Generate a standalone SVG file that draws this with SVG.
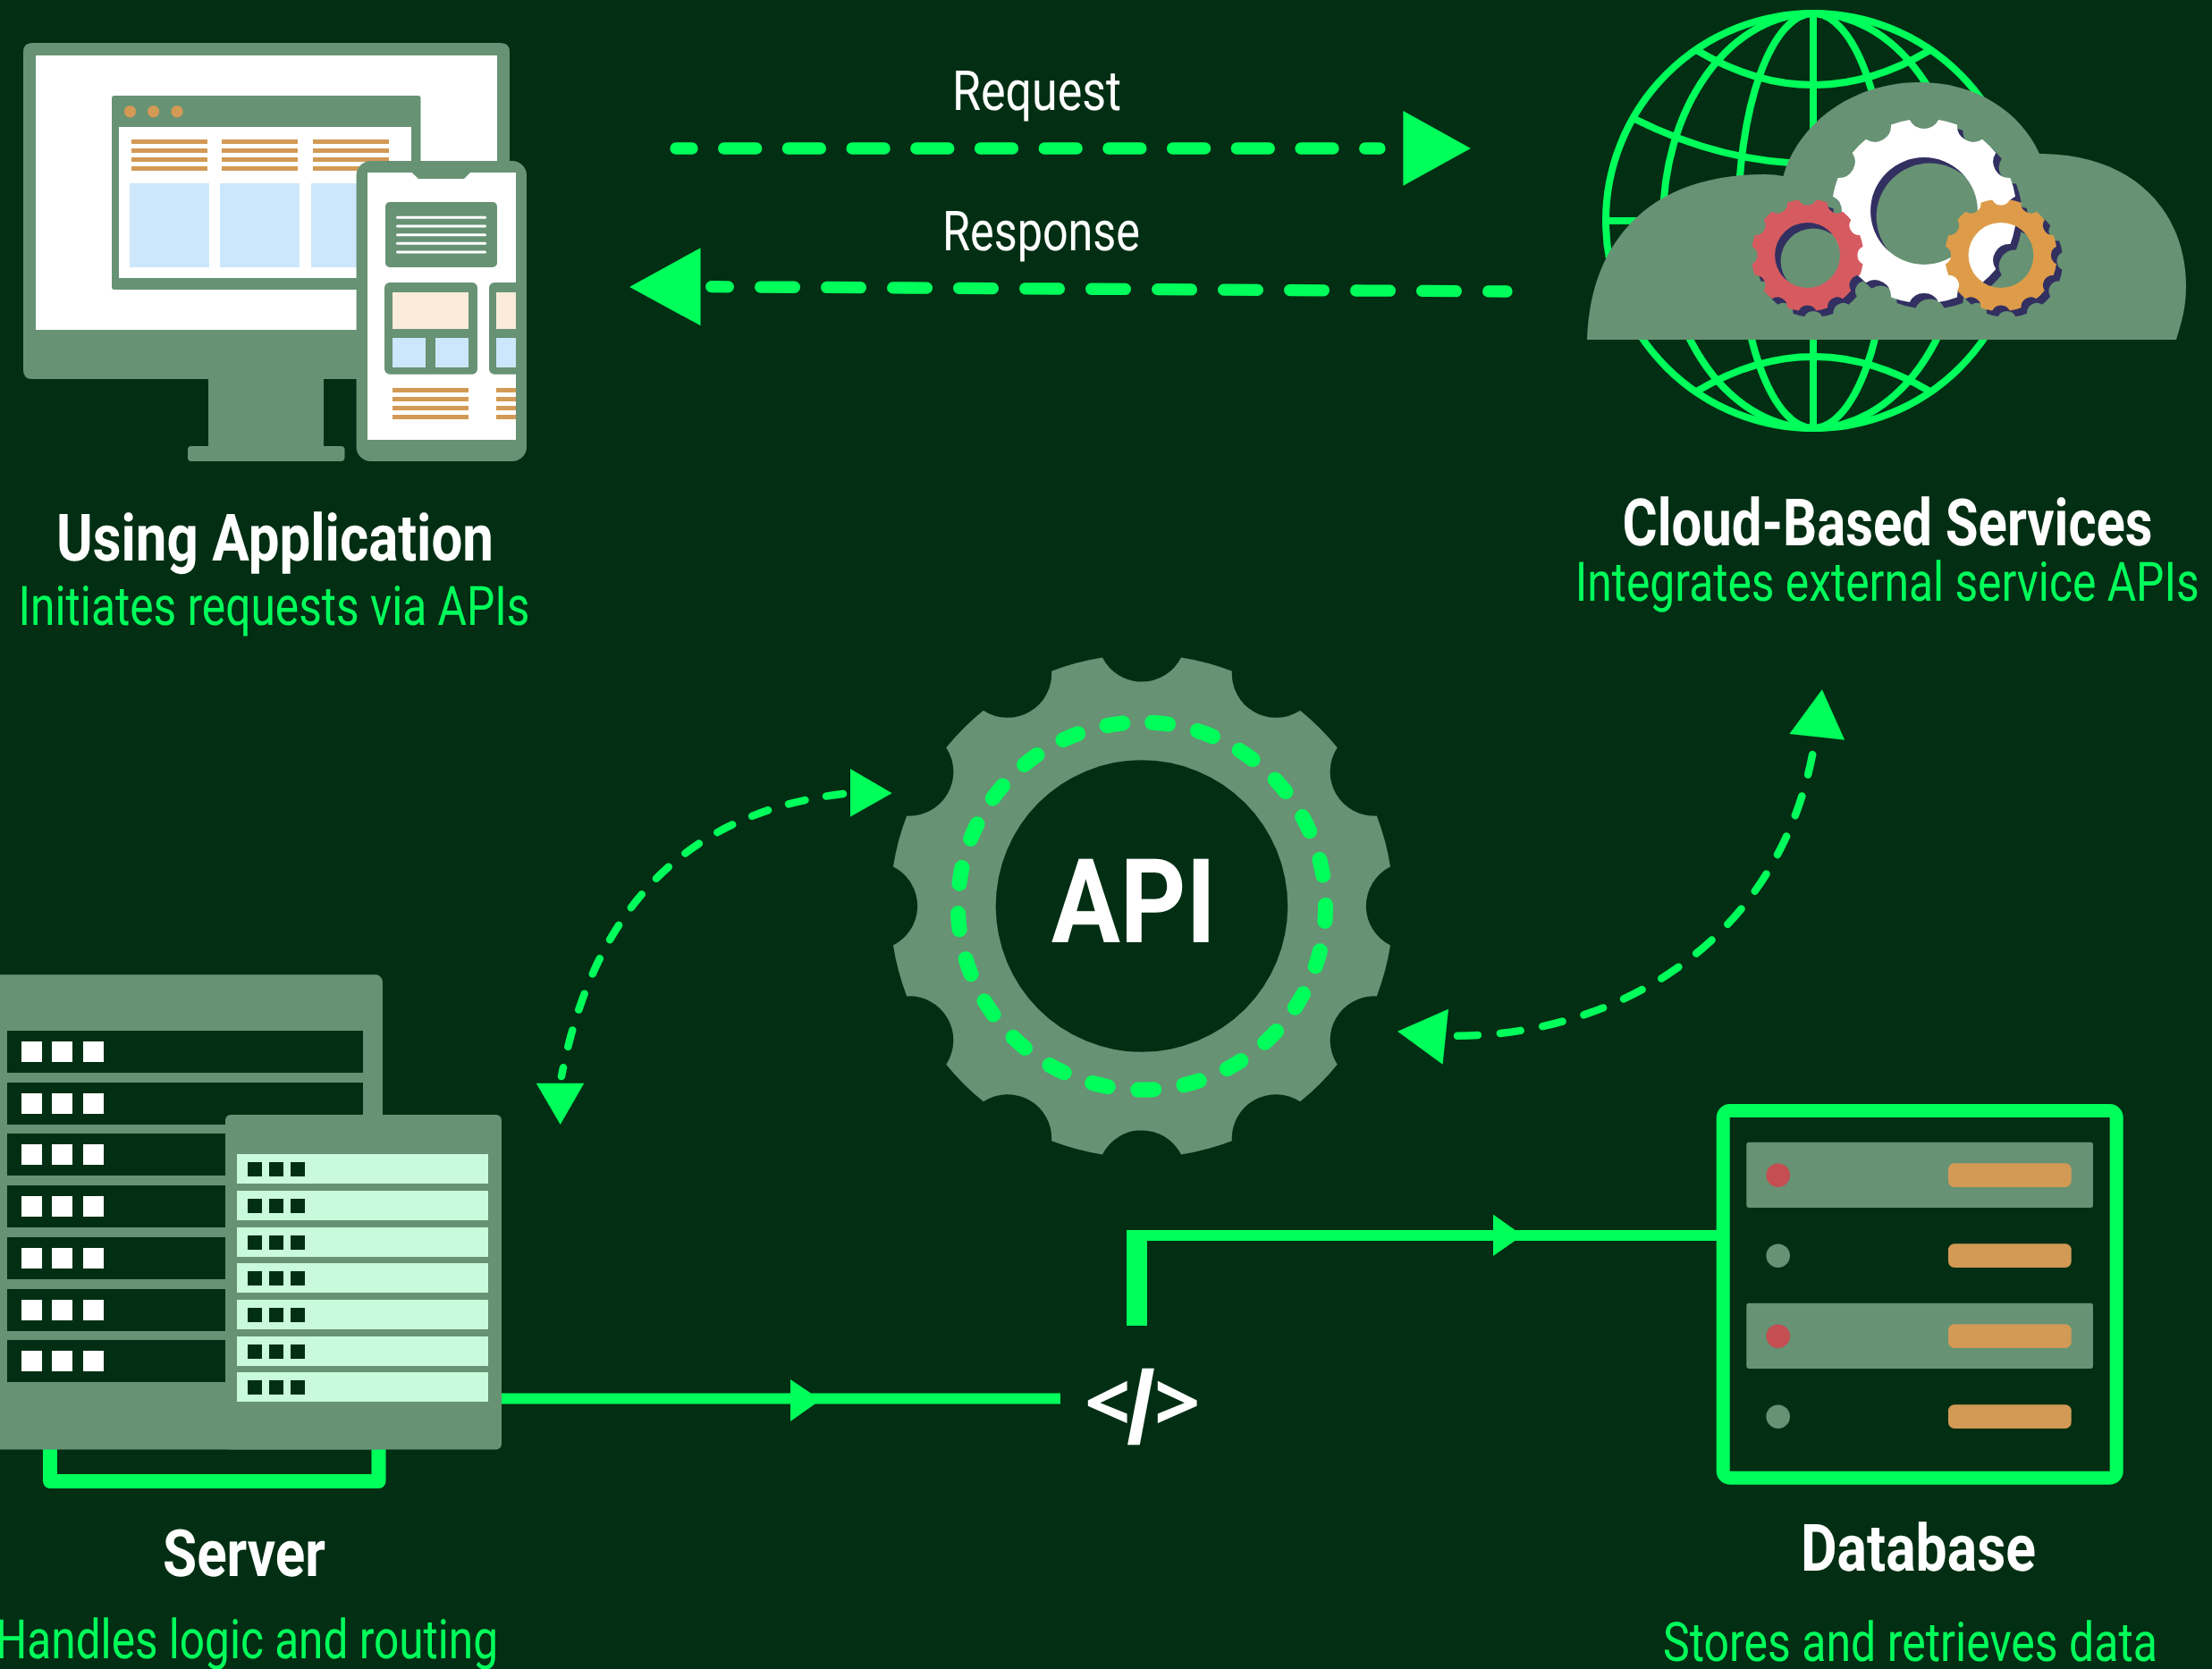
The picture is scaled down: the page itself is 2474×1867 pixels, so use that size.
<svg xmlns="http://www.w3.org/2000/svg" xmlns:xlink="http://www.w3.org/1999/xlink" width="2474" height="1867" viewBox="0 0 2474 1867">
<style>
text{font-family:Roboto,"Noto Sans",sans-serif;text-rendering:geometricPrecision}
.title{font-size:73px;font-weight:700;fill:#fff}
.sub{font-size:61px;font-weight:400;fill:#00ff5b}
.lbl{font-size:62px;font-weight:400;fill:#fff}
.g{fill:#679274}.o{fill:#d29a55}.b{fill:#cce7fb}.c{fill:#faecd9}.w{fill:#fff}.d{fill:#022f13}.m{fill:#c8fadb}
.head{fill:#00ff5b}
.dash{fill:none;stroke:#00ff5b;stroke-linecap:round}
.solid{fill:none;stroke:#00ff5b}
.globe{fill:none;stroke:#00ff5b;stroke-width:8}
</style>
<defs>
<path id="gear" fill-rule="evenodd" d="M-15.64 -98.77A17.5 17.5 0 0 0 15.64 -98.77A100 100 0 0 1 35.84 -93.36A17.5 17.5 0 0 0 62.93 -77.71A100 100 0 0 1 77.71 -62.93A17.5 17.5 0 0 0 93.36 -35.84A100 100 0 0 1 98.77 -15.64A17.5 17.5 0 0 0 98.77 15.64A100 100 0 0 1 93.36 35.84A17.5 17.5 0 0 0 77.71 62.93A100 100 0 0 1 62.93 77.71A17.5 17.5 0 0 0 35.84 93.36A100 100 0 0 1 15.64 98.77A17.5 17.5 0 0 0 -15.64 98.77A100 100 0 0 1 -35.84 93.36A17.5 17.5 0 0 0 -62.93 77.71A100 100 0 0 1 -77.71 62.93A17.5 17.5 0 0 0 -93.36 35.84A100 100 0 0 1 -98.77 15.64A17.5 17.5 0 0 0 -98.77 -15.64A100 100 0 0 1 -93.36 -35.84A17.5 17.5 0 0 0 -77.71 -62.93A100 100 0 0 1 -62.93 -77.71A17.5 17.5 0 0 0 -35.84 -93.36A100 100 0 0 1 -15.64 -98.77ZM0 -58A58 58 0 1 0 0 58A58 58 0 1 0 0 -58Z"/>
<g id="backrow"><rect class="d" x="8" y="0" width="398" height="47"/><rect class="w" x="24" y="12" width="23" height="23"/><rect class="w" x="58" y="12" width="23" height="23"/><rect class="w" x="93" y="12" width="23" height="23"/></g>
<g id="frontrow"><rect class="m" x="265" y="0" width="281" height="33"/><rect class="d" x="277" y="9" width="16" height="16"/><rect class="d" x="301" y="9" width="16" height="16"/><rect class="d" x="325" y="9" width="16" height="16"/></g>
<g id="lines4"><rect class="o" x="0" y="0" width="85" height="5"/><rect class="o" x="0" y="10" width="85" height="5"/><rect class="o" x="0" y="20" width="85" height="5"/><rect class="o" x="0" y="30" width="85" height="5"/></g>
<clipPath id="scr"><rect x="411" y="193" width="166" height="299"/></clipPath>
</defs>
<rect id="background" width="2474" height="1867" fill="#022f13"/>

<g id="using-application">
<path class="g" d="M36 48H560Q570 48 570 58V414Q570 424 560 424H362V499H381Q385.500 499 385.500 503V512Q385.500 516 381 516H214Q210 516 210 512V503Q210 499 214 499H233V424H36Q26 424 26 414V58Q26 48 36 48Z"/>
<rect class="w" x="40" y="62" width="516" height="307"/>
<rect class="g" x="125" y="107" width="345.500" height="217" rx="3"/>
<rect class="w" x="133" y="142" width="327" height="169"/>
<circle class="o" cx="145.500" cy="124.700" r="6.700"/><circle class="o" cx="171.600" cy="124.700" r="6.700"/><circle class="o" cx="198" cy="124.700" r="6.700"/>
<use href="#lines4" x="147" y="156"/><use href="#lines4" x="248" y="156"/><use href="#lines4" x="350" y="156"/>
<rect class="b" x="145" y="205" width="89" height="94"/><rect class="b" x="246" y="205" width="89" height="94"/><rect class="b" x="348" y="205" width="89" height="94"/>
<rect class="g" x="398.600" y="180" width="190.400" height="336" rx="16"/>
<path class="w" d="M411 193H460.600L468 200H519L526 193H577V492H411Z"/>
<rect class="g" x="431" y="226" width="125" height="73" rx="5"/>
<g class="w"><rect x="443" y="241.800" width="101" height="3" rx="1.500"/><rect x="443" y="251.500" width="101" height="3" rx="1.500"/><rect x="443" y="261.200" width="101" height="3" rx="1.500"/><rect x="443" y="270.800" width="101" height="3" rx="1.500"/><rect x="443" y="280.500" width="101" height="3" rx="1.500"/></g>
<rect class="g" x="430" y="316" width="104" height="102.700" rx="6"/>
<rect class="c" x="439" y="327" width="85" height="41"/>
<rect class="b" x="439" y="378" width="37" height="33"/><rect class="b" x="487" y="378" width="37" height="33"/>
<use href="#lines4" x="439" y="434"/>
<g clip-path="url(#scr)">
<rect class="g" x="547" y="316" width="60" height="102.700" rx="6"/>
<rect class="c" x="555" y="327" width="85" height="41"/>
<rect class="b" x="555" y="378" width="37" height="33"/>
<use href="#lines4" x="555" y="434"/>
</g>
<text class="title" x="63" y="627.300" textLength="489" lengthAdjust="spacingAndGlyphs">Using Application</text>
<text class="sub" x="20.500" y="699.300" textLength="572" lengthAdjust="spacingAndGlyphs">Initiates requests via APIs</text>
</g>

<g id="cloud-based-services">
<circle class="globe" cx="2028" cy="247" r="232"/>
<ellipse class="globe" cx="2028" cy="247" rx="84" ry="232"/>
<ellipse class="globe" cx="2028" cy="247" rx="168" ry="232"/>
<path class="globe" d="M2028 15V479M1796 247H2260M1899 57Q2028 133 2157 57M1828 133Q2028 233 2228 133M1899 437Q2028 361 2157 437M1828 361Q2028 261 2228 361"/>
<path class="g" d="M1775 380C1778 280 1835 195 1974 195Q1985 195 1994.500 197C2010 140 2070 92 2147 92C2210 92 2260 125 2281 172C2390 172 2445 240 2445 320C2445 345 2440 360 2434 380Z"/>
<use href="#gear" fill="#322f61" transform="translate(2244.500 292) scale(.628)"/>
<use href="#gear" fill="#322f61" transform="translate(2028 292) scale(.628)"/>
<use href="#gear" fill="#322f61" transform="translate(2158.500 242.500) scale(1.033)"/>
<use href="#gear" fill="#fff" transform="translate(2152 236) scale(1.033)"/>
<use href="#gear" fill="#d65b60" transform="translate(2021.500 285.500) scale(.628)"/>
<use href="#gear" fill="#de9c4a" transform="translate(2238 285.500) scale(.628)"/>
<text class="title" x="1814.600" y="610" textLength="593" lengthAdjust="spacingAndGlyphs">Cloud-Based Services</text>
<text class="sub" x="1761.700" y="671.700" textLength="698" lengthAdjust="spacingAndGlyphs">Integrates external service APIs</text>
</g>

<g id="api">
<use href="#gear" class="g" transform="translate(1277 1013.500) scale(2.815)"/>
<circle cx="1277" cy="1013.500" r="205.600" fill="none" stroke="#00ff5b" stroke-width="17" stroke-linecap="round" stroke-dasharray="18 33.680" stroke-dashoffset="-11.800" transform="rotate(-90 1277 1013.500)"/>
<text x="1176" y="1054" font-size="131" font-weight="700" fill="#fff" textLength="184" lengthAdjust="spacingAndGlyphs">API</text>
</g>

<g id="server">
<path class="solid" stroke-width="16" stroke-linejoin="round" d="M56 1615V1657H423.500V1615"/>
<rect class="g" x="-20" y="1090.300" width="448" height="531.200" rx="8"/>
<use href="#backrow" y="1153"/><use href="#backrow" y="1211"/><use href="#backrow" y="1268"/><use href="#backrow" y="1326"/><use href="#backrow" y="1384"/><use href="#backrow" y="1442"/><use href="#backrow" y="1499"/>
<rect class="g" x="252" y="1247" width="309" height="374.500" rx="6"/>
<use href="#frontrow" y="1291"/><use href="#frontrow" y="1332"/><use href="#frontrow" y="1373"/><use href="#frontrow" y="1413"/><use href="#frontrow" y="1454"/><use href="#frontrow" y="1495"/><use href="#frontrow" y="1535"/>
<text class="title" x="182" y="1762.500" textLength="182" lengthAdjust="spacingAndGlyphs">Server</text>
<text class="sub" x="-5" y="1854.500" textLength="562" lengthAdjust="spacingAndGlyphs">Handles logic and routing</text>
</g>

<g id="database">
<rect x="1927.200" y="1242.500" width="440" height="410.700" rx="7.500" fill="none" stroke="#00ff5b" stroke-width="15"/>
<rect class="g" x="1953.300" y="1277.700" width="387.700" height="73.300" rx="3"/>
<rect class="g" x="1953.300" y="1457.700" width="387.700" height="73.300" rx="3"/>
<circle cx="1988.700" cy="1314.700" r="13.300" fill="#c44e52"/><circle class="g" cx="1988.700" cy="1404.700" r="13.300"/><circle cx="1988.700" cy="1494.700" r="13.300" fill="#c44e52"/><circle class="g" cx="1988.700" cy="1584.700" r="13.300"/>
<rect class="o" x="2179" y="1301.300" width="137.700" height="26.700" rx="7"/><rect class="o" x="2179" y="1391.300" width="137.700" height="26.700" rx="7"/><rect class="o" x="2179" y="1481.300" width="137.700" height="26.700" rx="7"/><rect class="o" x="2179" y="1571.300" width="137.700" height="26.700" rx="7"/>
<text class="title" x="2014" y="1757" textLength="263" lengthAdjust="spacingAndGlyphs">Database</text>
<text class="sub" x="1860" y="1857.600" textLength="553" lengthAdjust="spacingAndGlyphs">Stores and retrieves data</text>
</g>

<g id="code-icon">
<text font-weight="700" fill="#fff" font-family="Noto Sans"><tspan x="1213" y="1601" font-size="90" font-family="Noto Sans">&lt;</tspan><tspan x="1260" y="1614" font-size="115" font-family="Liberation Sans">/</tspan><tspan x="1291" y="1601" font-size="90" font-family="Noto Sans">&gt;</tspan></text>
</g>

<g id="connectors">
<path class="dash" stroke-width="13.300" stroke-dasharray="36 35.700" stroke-dashoffset="18" d="M756 166H1543"/>
<polygon class="head" points="1569.400,124 1645,166 1569.400,207.700"/>
<text class="lbl" x="1065" y="122.700" textLength="189" lengthAdjust="spacingAndGlyphs">Request</text>
<path class="dash" stroke-width="13.300" stroke-dasharray="37.700 36.300" stroke-dashoffset="19" d="M795.700 320.700L1685 326"/>
<polygon class="head" points="783.500,277.300 704,321 783.500,364.300"/>
<text class="lbl" x="1054" y="280" textLength="221" lengthAdjust="spacingAndGlyphs">Response</text>
<path class="dash" stroke-width="8.500" stroke-dasharray="19 24" d="M943 888Q683 919 628 1204"/>
<polygon class="head" points="951,860 997.700,887.300 951,913.700"/>
<polygon class="head" points="599.700,1211.700 653.300,1211.700 626.700,1258"/>
<path class="dash" stroke-width="8.500" stroke-dasharray="23 25" d="M1630 1158.700C1800 1158 1990 1060 2029 834"/>
<polygon class="head" points="1563,1153.700 1620,1128.700 1613.600,1190.700"/>
<polygon class="head" points="2037.900,771.300 2001.400,821 2063.200,827.700"/>
<path class="solid" stroke-width="12" d="M561 1564.500H1186"/>
<polygon class="head" points="884,1543 918,1566 884,1590"/>
<path class="solid" stroke-width="23" d="M1271.500 1483V1376"/>
<path class="solid" stroke-width="12" d="M1260 1382H1933"/>
<polygon class="head" points="1670,1358.500 1703,1382 1670,1405"/>
</g>
</svg>
